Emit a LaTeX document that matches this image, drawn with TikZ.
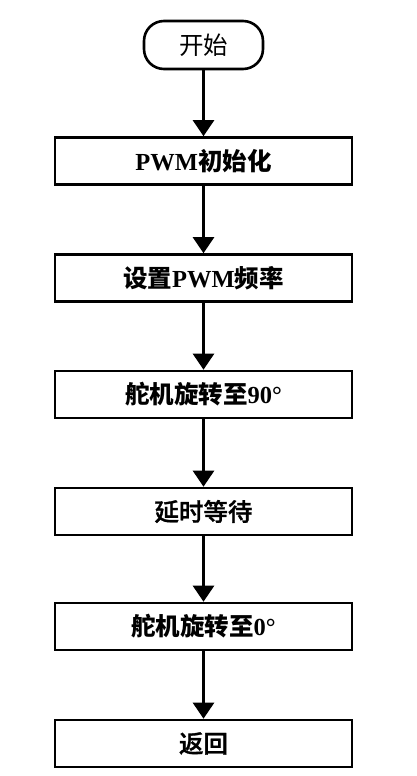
\documentclass[tikz,border=0pt]{standalone}
\usepackage{fontspec}
\setmainfont{Liberation Serif}
\newfontfamily\cjk{Noto Sans CJK SC}
\newfontfamily\cjkm{Noto Sans CJK SC Medium}[FakeBold=1.2]
\usetikzlibrary{arrows.meta}
\begin{document}
\begin{tikzpicture}[x=1pt,y=-1pt,
  every node/.style={font=\fontsize{24.5}{26}\selectfont\bfseries},
  procbox/.style={draw,line width=2.6pt,minimum width=297pt,minimum height=47pt,inner sep=0pt},
  termbox/.style={draw,line width=2.6pt,rounded corners=20pt,minimum width=119pt,minimum height=48pt,inner sep=0pt},
  flow/.style={line width=2.6pt,-{Triangle[length=16pt,width=21pt]}}]
\useasboundingbox (0,0) rectangle (417,776);
\node[termbox] (start) at (203.5,45) {\cjk\mdseries 开始};
\node[procbox] (init) at (203.5,161) {PWM{\cjk 初始化}};
\node[procbox] (freq) at (203.5,278) {{\cjk 设置}PWM{\cjk 频率}};
\node[procbox] (r90) at (203.5,394.5) {{\cjk 舵机旋转至}90°};
\node[procbox] (wait) at (203.5,511.5) {\cjkm\mdseries 延时等待};
\node[procbox] (r0) at (203.5,626.5) {{\cjk 舵机旋转至}0°};
\node[procbox] (ret) at (203.5,743.5) {\cjkm\mdseries 返回};
\draw[flow] (start) -- (init);
\draw[flow] (init) -- (freq);
\draw[flow] (freq) -- (r90);
\draw[flow] (r90) -- (wait);
\draw[flow] (wait) -- (r0);
\draw[flow] (r0) -- (ret);
\end{tikzpicture}
\end{document}
